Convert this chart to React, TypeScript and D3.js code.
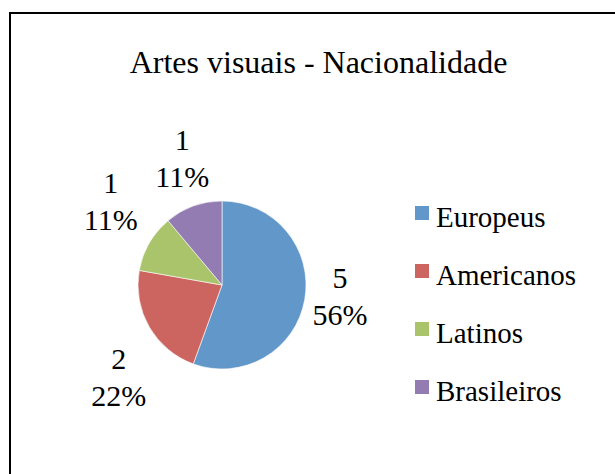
import React from 'react';
import * as d3 from 'd3';

const categories = ['Europeus', 'Americanos', 'Latinos', 'Brasileiros'];
const values = [5, 2, 1, 1];
const percents = ['56%', '22%', '11%', '11%'];
const colors = ['#6297CA', '#CC6560', '#AAC46B', '#937CB2'];

// nudges for the outside labels (excel best fit places them by hand-ish)
const labelNudge = [[-5, -11], [5, 29], [-3, -22], [3, -10]];

const width = 615;
const height = 474;
const font = 'Liberation Serif';

const cx = 222;
const cy = 285;
const radius = 84;

export default function App() {
  const pie = d3.pie<number>().sort(null).value(d => d);
  const arcs = pie(values);
  const arc = d3.arc<d3.PieArcDatum<number>>().innerRadius(0).outerRadius(radius);
  const labelArc = d3.arc<d3.PieArcDatum<number>>().innerRadius(125).outerRadius(125);

  return (
    <svg width={width} height={height}
      style={{ position: 'absolute', left: 0, top: 0, background: 'white' }}>
      <rect x={10} y={13} width={640} height={500} fill="white" stroke="black" strokeWidth={2} />
      <text x={318.5} y={73} textAnchor="middle" fontFamily={font} fontSize={32}>
        Artes visuais - Nacionalidade
      </text>
      <g transform={`translate(${cx},${cy})`}>
        {arcs.map((d, i) => (
          <path key={i} d={arc(d) || ''} fill={colors[i]} stroke="white" strokeWidth={0.6} />
        ))}
        {arcs.map((d, i) => {
          const [x, y] = labelArc.centroid(d);
          return (
            <text key={'l' + i} transform={`translate(${x + labelNudge[i][0]},${y + labelNudge[i][1]})`}
              textAnchor="middle" fontFamily={font} fontSize={30}>
              <tspan x={0} y={-8}>{d.data}</tspan>
              <tspan x={0} y={29}>{percents[i]}</tspan>
            </text>
          );
        })}
      </g>
      <g transform="translate(415,206)">
        {categories.map((c, i) => (
          <g key={c} transform={`translate(0,${i * 58})`}>
            <rect width={14} height={14} fill={colors[i]} />
            <text x={21} y={21} fontFamily={font} fontSize={29}>{c}</text>
          </g>
        ))}
      </g>
    </svg>
  );
}
